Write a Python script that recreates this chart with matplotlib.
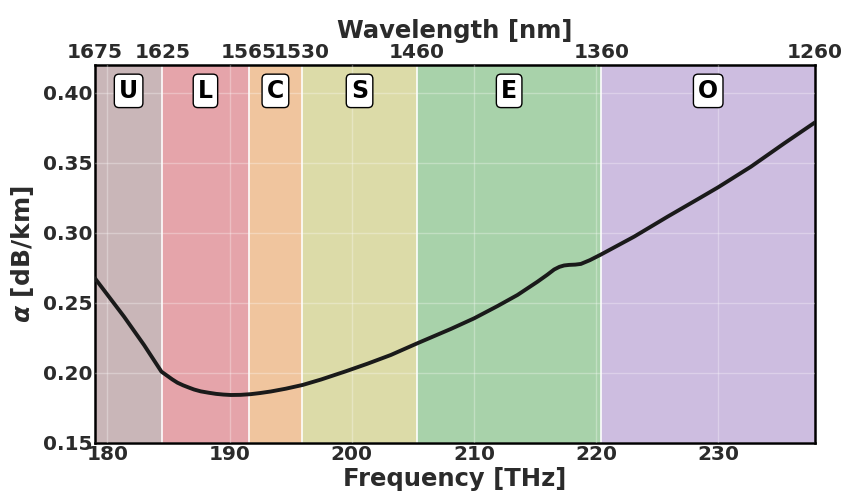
import numpy as np
import matplotlib
matplotlib.use("Agg")
import matplotlib.pyplot as plt

plt.rcParams["font.family"] = ["DejaVu Sans"]
plt.rcParams["font.weight"] = "bold"
plt.rcParams["mathtext.fontset"] = "custom"
plt.rcParams["mathtext.it"] = "DejaVu Sans:bold:italic"
plt.rcParams["mathtext.rm"] = "DejaVu Sans:bold"

C_NM_THZ = 299792.458

# Optical band edges (wavelength, nm) and names
band_names = ["U", "L", "C", "S", "E", "O"]
band_edges_nm = [1675, 1625, 1565, 1530, 1460, 1360, 1260]
band_colors = ["#c9b6b8", "#e5a4aa", "#f0c59e", "#dcdba8", "#a8d2aa", "#cdbde0"]

# Fibre attenuation vs frequency
freq_thz = [178.98, 181.36, 183.00, 184.42, 184.90, 185.30, 185.73, 186.20,
            186.70, 187.10, 187.64, 188.30, 188.90, 189.50, 190.10, 190.90,
            191.73, 192.50, 193.37, 194.60, 195.99, 197.50, 199.50, 201.30,
            203.20, 205.38, 208.11, 210.02, 211.94, 213.57, 215.21, 216.00,
            216.57, 217.00, 217.39, 217.80, 218.30, 218.76, 219.50, 220.40,
            223.12, 225.86, 228.59, 230.00, 232.68, 235.41, 237.93]
atten_db_km = [0.2675, 0.2401, 0.2198, 0.2008, 0.1978, 0.1953, 0.1929, 0.1910,
               0.1893, 0.1880, 0.1867, 0.1857, 0.1849, 0.1844, 0.1841, 0.1842,
               0.1847, 0.1855, 0.1866, 0.1886, 0.1913, 0.1952, 0.2010, 0.2065,
               0.2127, 0.2211, 0.2313, 0.2389, 0.2477, 0.2556, 0.2651, 0.2700,
               0.2738, 0.2757, 0.2767, 0.2771, 0.2773, 0.2778, 0.2805, 0.2845,
               0.2973, 0.3116, 0.3254, 0.3326, 0.3473, 0.3640, 0.3790]

freq_ticks = [180, 190, 200, 210, 220, 230]
atten_ticks = [0.15, 0.20, 0.25, 0.30, 0.35, 0.40]

text_color = "#2b2b2b"

fig = plt.figure(figsize=(8.42, 5.0), dpi=100)
ax = fig.add_axes([0.1128, 0.1146, 0.968 - 0.1128, 0.87 - 0.1146])

edges_thz = [C_NM_THZ / w for w in band_edges_nm]
for i, name in enumerate(band_names):
    lo, hi = edges_thz[i], edges_thz[i + 1]
    ax.axvspan(lo, hi, color=band_colors[i], lw=0, zorder=0)
    ax.text((lo + hi) / 2, 0.4015, name, ha="center", va="center",
            fontsize=17, fontweight="bold", color="black", zorder=5,
            bbox=dict(boxstyle="round,pad=0.2,rounding_size=0.2",
                      fc="white", ec="black", lw=1.0))
for e in edges_thz[1:-1]:
    ax.axvline(e, color="white", lw=1.3, alpha=0.9, zorder=1)

ax.plot(freq_thz, atten_db_km, color="#1a1a1a", lw=2.8, zorder=4,
        solid_joinstyle="round", solid_capstyle="round")

ax.set_xlim(edges_thz[0], edges_thz[-1])
ax.set_ylim(0.15, 0.42)
ax.set_xticks(freq_ticks)
ax.set_yticks(atten_ticks)
ax.set_yticklabels([f"{v:.2f}" for v in atten_ticks])
ax.set_axisbelow(False)
ax.grid(True, color="white", alpha=0.3, lw=1.0, zorder=2)
ax.tick_params(axis="both", length=0, pad=2, labelsize=14.5, labelcolor=text_color)
for lab in ax.get_xticklabels() + ax.get_yticklabels():
    lab.set_fontweight("bold")
for sp in ax.spines.values():
    sp.set_color("black")
    sp.set_linewidth(1.8)

ax.set_xlabel("Frequency [THz]", fontsize=17.5, fontweight="bold",
              color=text_color, labelpad=2)
ax.set_ylabel(r"$\alpha$ [dB/km]", fontsize=18, fontweight="bold",
              color=text_color, labelpad=5)

top = ax.secondary_xaxis("top", functions=(lambda f: C_NM_THZ / np.asarray(f, dtype=float),
                                           lambda w: C_NM_THZ / np.asarray(w, dtype=float)))
top.set_xticks(band_edges_nm)
top.set_xticklabels([str(w) for w in band_edges_nm])
top.tick_params(length=0, pad=2, labelsize=14.5, labelcolor=text_color)
for lab in top.get_xticklabels():
    lab.set_fontweight("bold")
top.set_xlabel("Wavelength [nm]", fontsize=17.5, fontweight="bold",
               color=text_color, labelpad=4)
top.spines["top"].set_visible(False)

fig.savefig("out.png", dpi=100)
